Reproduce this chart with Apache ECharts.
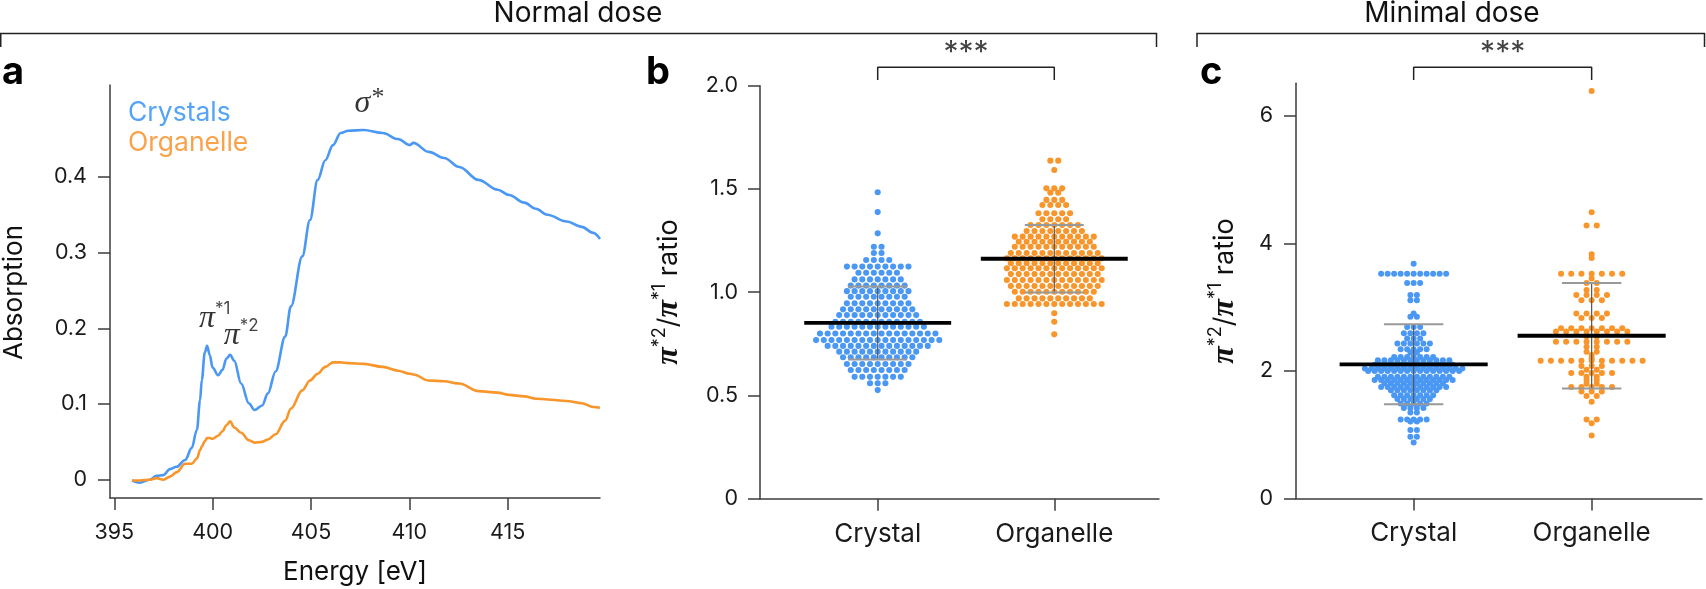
<!DOCTYPE html>
<html><head><meta charset="utf-8">
<script src="https://cdn.jsdelivr.net/npm/echarts/dist/echarts.min.js"></script>
<style>html,body{margin:0;padding:0;background:#fff}#c{width:1706px;height:589px}</style>
</head><body><div id="c"></div>
<script>
// ---------- DATA ----------
const energy = [395.9, 396.3, 396.8, 397.15, 397.5, 397.83, 398.17, 398.6, 398.94, 399.2,
  399.36, 399.45, 399.6, 399.72, 399.85, 400.0, 400.28, 400.5, 400.7, 400.89,
  401.1, 401.45, 401.84, 402.13, 402.52, 402.81, 403.2, 403.69, 403.98, 404.56,
  404.95, 405.34, 405.73, 406.12, 406.51, 406.9, 407.68, 408.65, 409.43, 410.02,
  410.21, 410.99, 411.77, 412.55, 413.52, 414.49, 415.08, 415.85, 416.44, 417.02,
  418.0, 418.77, 419.36, 419.7];
const absCrystals = [-0.001, -0.004, 0.000, 0.005, 0.006, 0.014, 0.017, 0.026, 0.042, 0.066,
  0.105, 0.132, 0.168, 0.177, 0.165, 0.148, 0.138, 0.145, 0.160, 0.165,
  0.157, 0.127, 0.101, 0.092, 0.098, 0.114, 0.143, 0.189, 0.229, 0.295,
  0.343, 0.396, 0.422, 0.442, 0.458, 0.461, 0.462, 0.458, 0.450, 0.442,
  0.445, 0.433, 0.425, 0.413, 0.396, 0.383, 0.376, 0.366, 0.358, 0.350,
  0.341, 0.334, 0.326, 0.318];
const absOrganelle = [-0.001, -0.001, 0.000, 0.002, 0.000, 0.004, 0.010, 0.021, 0.021, 0.028,
  0.039, 0.044, 0.051, 0.055, 0.055, 0.054, 0.058, 0.064, 0.072, 0.077,
  0.069, 0.062, 0.052, 0.049, 0.050, 0.053, 0.060, 0.078, 0.094, 0.118,
  0.131, 0.140, 0.149, 0.155, 0.155, 0.154, 0.153, 0.149, 0.144, 0.140,
  0.139, 0.131, 0.130, 0.127, 0.117, 0.115, 0.112, 0.110, 0.107, 0.106,
  0.104, 0.101, 0.096, 0.095];
const seriesNamesA = ['Crystals', 'Organelle'];
const groupNames = ['Crystal', 'Organelle'];
const energyTicks = [395, 400, 405, 410, 415];
const absTicks = [0, 0.1, 0.2, 0.3, 0.4];
const ratioTicksB = [0, 0.5, 1.0, 1.5, 2.0];
const ratioTicksC = [0, 2, 4, 6];

const bCrystal = [
  1.484, 1.388, 1.285, 1.22, 1.22, 1.19, 1.19,
  1.156, 1.156, 1.156, 1.156,
  1.124, 1.124, 1.124, 1.124, 1.124, 1.124, 1.124, 1.124, 1.124,
  1.094, 1.094, 1.094, 1.094, 1.094, 1.094,
  1.062, 1.062, 1.062, 1.062, 1.062, 1.062, 1.062,
  1.032, 1.032, 1.032, 1.032, 1.032, 1.032, 1.032, 1.032,
  1.005, 1.005, 1.005, 1.005, 1.005, 1.005, 1.005, 1.005, 1.005,
  0.978, 0.978, 0.978, 0.978, 0.978, 0.978, 0.978, 0.978,
  0.946, 0.946, 0.946, 0.946, 0.946, 0.946, 0.946, 0.946, 0.946,
  0.917, 0.917, 0.917, 0.917, 0.917, 0.917, 0.917, 0.917, 0.917, 0.917,
  0.889, 0.889, 0.889, 0.889, 0.889, 0.889, 0.889, 0.889, 0.889, 0.889, 0.889,
  0.857, 0.857, 0.857, 0.857, 0.857, 0.857, 0.857, 0.857, 0.857, 0.857, 0.857, 0.857,
  0.833, 0.833, 0.833, 0.833, 0.833, 0.833, 0.833, 0.833, 0.833, 0.833, 0.833, 0.833, 0.833,
  0.800, 0.800, 0.800, 0.800, 0.800, 0.800, 0.800, 0.800, 0.800, 0.800, 0.800, 0.800, 0.800, 0.800, 0.800, 0.800,
  0.768, 0.768, 0.768, 0.768, 0.768, 0.768, 0.768, 0.768, 0.768, 0.768, 0.768, 0.768, 0.768, 0.768, 0.768, 0.768, 0.768,
  0.740, 0.740, 0.740, 0.740, 0.740, 0.740, 0.740, 0.740, 0.740, 0.740, 0.740, 0.740, 0.740, 0.740,
  0.712, 0.712, 0.712, 0.712, 0.712, 0.712, 0.712, 0.712, 0.712, 0.712, 0.712,
  0.685, 0.685, 0.685, 0.685, 0.685, 0.685, 0.685, 0.685, 0.685, 0.685,
  0.652, 0.652, 0.652, 0.652, 0.652, 0.652, 0.652, 0.652, 0.652,
  0.623, 0.623, 0.623, 0.623, 0.623, 0.623, 0.623, 0.623,
  0.590, 0.590, 0.590, 0.590, 0.590, 0.590, 0.590,
  0.559, 0.559, 0.559,
  0.526];
const bOrganelle = [
  1.637, 1.637, 1.592,
  1.503, 1.503, 1.503, 1.482, 1.482,
  1.447, 1.447, 1.447, 1.422, 1.422, 1.422, 1.422,
  1.382, 1.382, 1.382, 1.382, 1.382, 1.353, 1.353, 1.353, 1.353,
  1.325, 1.325, 1.325, 1.325, 1.325, 1.325, 1.325,
  1.296, 1.296, 1.296, 1.296, 1.296, 1.296, 1.296, 1.296,
  1.269, 1.269, 1.269, 1.269, 1.269, 1.269, 1.269, 1.269, 1.269, 1.269, 1.269,
  1.244, 1.244, 1.244, 1.244, 1.244, 1.244, 1.244, 1.244, 1.244, 1.244,
  1.220, 1.220, 1.220, 1.220, 1.220, 1.220, 1.220, 1.220, 1.220, 1.220, 1.220,
  1.190, 1.190, 1.190, 1.190, 1.190, 1.190, 1.190, 1.190, 1.190, 1.190, 1.190, 1.190,
  1.164, 1.164, 1.164, 1.164, 1.164, 1.164, 1.164, 1.164, 1.164, 1.164, 1.164, 1.164, 1.164,
  1.140, 1.140, 1.140, 1.140, 1.140, 1.140, 1.140, 1.140, 1.140, 1.140, 1.140, 1.140,
  1.116, 1.116, 1.116, 1.116, 1.116, 1.116, 1.116, 1.116, 1.116, 1.116, 1.116, 1.116, 1.116,
  1.088, 1.088, 1.088, 1.088, 1.088, 1.088, 1.088, 1.088, 1.088, 1.088, 1.088, 1.088,
  1.059, 1.059, 1.059, 1.059, 1.059, 1.059, 1.059, 1.059, 1.059, 1.059, 1.059, 1.059, 1.059,
  1.030, 1.030, 1.030, 1.030, 1.030, 1.030, 1.030, 1.030, 1.030, 1.030, 1.030, 1.030,
  1.002, 1.002, 1.002, 1.002, 1.002, 1.002, 1.002, 1.002, 1.002, 1.002, 1.002,
  0.970, 0.970, 0.970, 0.970, 0.970, 0.970, 0.970, 0.970, 0.970, 0.970,
  0.943, 0.943, 0.943, 0.943, 0.943, 0.943, 0.943, 0.943, 0.943, 0.943, 0.943, 0.943, 0.943,
  0.898, 0.857, 0.796];
const cCrystal = [
  3.68,
  3.525, 3.525, 3.525, 3.525, 3.525, 3.525, 3.525, 3.525, 3.525, 3.525, 3.525,
  3.38, 3.38, 3.38, 3.19, 3.19, 3.11, 3.11,
  2.90, 2.85, 2.85, 2.69, 2.69, 2.69, 2.59, 2.59, 2.59, 2.59, 2.51, 2.51, 2.51,
  2.43, 2.43, 2.43, 2.43, 2.43, 2.43, 2.34, 2.34, 2.34, 2.34, 2.34, 2.29, 2.29,
  2.22, 2.22, 2.22, 2.22, 2.22, 2.22, 2.22,
  2.17, 2.17, 2.17, 2.17, 2.17, 2.17, 2.17, 2.17, 2.17, 2.17, 2.17, 2.17,
  2.10, 2.10, 2.10, 2.10, 2.10, 2.10, 2.10, 2.10, 2.10, 2.10, 2.10, 2.10, 2.10,
  2.04, 2.04, 2.04, 2.04, 2.04, 2.04, 2.04, 2.04, 2.04, 2.04, 2.04, 2.04, 2.04, 2.04, 2.04, 2.04,
  2.00, 2.00, 2.00, 2.00, 2.00, 2.00, 2.00, 2.00, 2.00, 2.00, 2.00, 2.00, 2.00, 2.00, 2.00,
  1.91, 1.91, 1.91, 1.91, 1.91, 1.91, 1.91, 1.91, 1.91, 1.91, 1.91, 1.91,
  1.86, 1.86, 1.86, 1.86, 1.86, 1.86, 1.86, 1.86, 1.86, 1.86, 1.86, 1.86, 1.86,
  1.81, 1.81, 1.81, 1.81, 1.81, 1.81, 1.81, 1.81, 1.81, 1.81,
  1.75, 1.75, 1.75, 1.75, 1.75, 1.75, 1.75, 1.75, 1.75, 1.75, 1.75,
  1.70, 1.70, 1.70, 1.70, 1.70, 1.70, 1.70, 1.70,
  1.62, 1.62, 1.62, 1.62, 1.62, 1.62, 1.62,
  1.56, 1.56, 1.56, 1.56, 1.56, 1.56,
  1.49, 1.49, 1.49, 1.49, 1.49,
  1.42, 1.42, 1.42, 1.42, 1.35, 1.35,
  1.24, 1.24, 1.24, 1.24, 1.24, 1.21, 1.21,
  1.075, 1.075, 0.97, 0.97, 0.88];
const cOrganelle = [
  6.39, 4.49, 4.28, 4.28, 3.83, 3.77,
  3.525, 3.525, 3.525, 3.525, 3.525, 3.525, 3.525, 3.45,
  3.38, 3.38, 3.27, 3.27, 3.19, 3.19, 3.19, 3.19, 3.11, 3.11, 3.11,
  2.90, 2.90, 2.90, 2.90, 2.83, 2.83, 2.83,
  2.67, 2.67, 2.67, 2.67, 2.67, 2.67, 2.67,
  2.62, 2.62, 2.62, 2.62, 2.62, 2.62, 2.62, 2.62,
  2.54, 2.54, 2.46, 2.46, 2.46, 2.46, 2.46, 2.46, 2.46, 2.46,
  2.38, 2.38, 2.30, 2.30, 2.25, 2.20,
  2.16, 2.16, 2.16, 2.16, 2.16, 2.16, 2.16, 2.16, 2.16, 2.16, 2.16,
  2.08, 2.08, 2.08, 2.02, 2.02, 1.97, 1.97, 1.97, 1.97, 1.97,
  1.91, 1.91, 1.86, 1.86, 1.80, 1.80, 1.75, 1.75, 1.75, 1.75, 1.75,
  1.68, 1.68, 1.68, 1.61, 1.61, 1.52, 1.24, 1.24, 1.18, 0.99];
const meansB = [0.851, 1.162];
const sdsB = [0.177, 0.163];
const meansC = [2.105, 2.553];
const sdsC = [0.627, 0.828];

// ---------- STYLE / LAYOUT ----------
const BLUE = '#4A98F3', ORANGE = '#F8952B';
const BLUE_TXT = '#55A3F6', ORANGE_TXT = '#F9A24A';
const FONT = 'Inter, "Noto Sans", sans-serif';
const SERIF = '"Liberation Serif", "DejaVu Serif", serif';
const AX = '#3c3c3c';

const gridA = {left: 110, top: 85, width: 490, height: 413};
const gridB = {left: 760, top: 85.7, width: 399, height: 413};
const gridC = {left: 1296, top: 83.3, width: 406, height: 415.3};
const xRangeA = [394.78, 419.7];
const yRangeA = [-0.0242, 0.5214];
const xRangeB = [0.3335, 2.593];
const xRangeC = [0.339, 2.62];
const yRangeC = [0, 6.51];

function rowSwarm(values, center, spacingPx, pxPerUnit) {
  const counts = new Map();
  values.forEach(v => counts.set(v, (counts.get(v) || 0) + 1));
  const out = [];
  counts.forEach((n, v) => {
    for (let i = 0; i < n; i++) out.push([center + (i - (n - 1) / 2) * spacingPx / pxPerUnit, v]);
  });
  return out;
}
const pxB = gridB.width / (xRangeB[1] - xRangeB[0]);
const pxC = gridC.width / (xRangeC[1] - xRangeC[0]);

function baseAxis(extra) {
  return Object.assign({
    axisLine: {show: true, onZero: false, lineStyle: {color: AX, width: 1.5}},
    axisTick: {show: true, length: 12, lineStyle: {color: AX, width: 1.5}},
    splitLine: {show: false},
    axisLabel: {color: '#1a1a1a', fontFamily: FONT, fontSize: 21.5}
  }, extra);
}
function fmtDec(v) { return v === 0 ? '0' : v.toFixed(1); }

const xAxes = [
  baseAxis({gridIndex: 0, type: 'value', min: xRangeA[0], max: xRangeA[1],
    axisTick: {show: true, length: 12, customValues: energyTicks, lineStyle: {color: AX, width: 1.5}},
    axisLabel: {customValues: energyTicks, color: '#1a1a1a', fontFamily: FONT, fontSize: 21.5, margin: 24}}),
  baseAxis({gridIndex: 1, type: 'value', min: xRangeB[0], max: xRangeB[1],
    axisTick: {show: true, length: 12, customValues: [1, 2], lineStyle: {color: AX, width: 1.5}},
    axisLabel: {customValues: [1, 2], formatter: v => groupNames[Math.round(v) - 1], color: '#1a1a1a', fontFamily: FONT, fontSize: 26, margin: 22}}),
  baseAxis({gridIndex: 2, type: 'value', min: xRangeC[0], max: xRangeC[1],
    axisTick: {show: true, length: 12, customValues: [1, 2], lineStyle: {color: AX, width: 1.5}},
    axisLabel: {customValues: [1, 2], formatter: v => groupNames[Math.round(v) - 1], color: '#1a1a1a', fontFamily: FONT, fontSize: 26, margin: 22}})
];
const yAxes = [
  baseAxis({gridIndex: 0, type: 'value', min: yRangeA[0], max: yRangeA[1],
    axisTick: {show: true, length: 12, customValues: absTicks, lineStyle: {color: AX, width: 1.5}},
    axisLabel: {customValues: absTicks, formatter: fmtDec, color: '#1a1a1a', fontFamily: FONT, fontSize: 21.5, margin: 23}}),
  baseAxis({gridIndex: 1, type: 'value', min: 0, max: 2,
    axisTick: {show: true, length: 12, customValues: ratioTicksB, lineStyle: {color: AX, width: 1.5}},
    axisLabel: {customValues: ratioTicksB, formatter: fmtDec, color: '#1a1a1a', fontFamily: FONT, fontSize: 21.5, margin: 22}}),
  baseAxis({gridIndex: 2, type: 'value', min: yRangeC[0], max: yRangeC[1],
    axisTick: {show: true, length: 12, customValues: ratioTicksC, lineStyle: {color: AX, width: 1.5}},
    axisLabel: {customValues: ratioTicksC, formatter: v => String(v), color: '#1a1a1a', fontFamily: FONT, fontSize: 21.5, margin: 23}})
];

function meanSdSeries(xi, yi, means, sds) {
  return {
    type: 'custom', xAxisIndex: xi, yAxisIndex: yi, z: 10, silent: true, clip: false,
    data: means.map((m, i) => [i + 1, m, sds[i]]),
    renderItem: function (params, api) {
      const x = api.value(0), m = api.value(1), s = api.value(2);
      const top = api.coord([x, m + s]), bot = api.coord([x, m - s]);
      const capL = api.coord([x - 0.167, m])[0], capR = api.coord([x + 0.167, m])[0];
      const mL = api.coord([x - 0.416, m]), mR = api.coord([x + 0.416, m]);
      return {type: 'group', children: [
        {type: 'line', shape: {x1: top[0], y1: top[1], x2: bot[0], y2: bot[1]}, style: {stroke: '#555', lineWidth: 1.2}},
        {type: 'line', shape: {x1: capL, y1: top[1], x2: capR, y2: top[1]}, style: {stroke: '#999', lineWidth: 2}},
        {type: 'line', shape: {x1: capL, y1: bot[1], x2: capR, y2: bot[1]}, style: {stroke: '#999', lineWidth: 2}},
        {type: 'line', shape: {x1: mL[0], y1: mL[1], x2: mR[0], y2: mR[1]}, style: {stroke: '#000', lineWidth: 3.8}}
      ]};
    }
  };
}
function bracketSeries(xi, yi, yLow, yHigh, yStar) {
  return [{
    type: 'line', xAxisIndex: xi, yAxisIndex: yi, clip: false, silent: true, symbol: 'none',
    lineStyle: {color: '#222', width: 1.5}, z: 5,
    data: [[1, yLow], [1, yHigh], [2, yHigh], [2, yLow]]
  }, {
    type: 'scatter', xAxisIndex: xi, yAxisIndex: yi, clip: false, silent: true, symbolSize: 0.01,
    data: [[1.5, yStar]],
    label: {show: true, position: 'inside', formatter: '***', color: '#111', fontFamily: FONT, fontSize: 30}
  }];
}
function dots(xi, yi, data, color, size) {
  return {type: 'scatter', xAxisIndex: xi, yAxisIndex: yi, data: data, symbolSize: size, silent: true,
    itemStyle: {color: color, opacity: 1}, z: 3};
}

const annRich = {
  p: {fontFamily: SERIF, fontStyle: 'italic', fontSize: 32, color: '#000', lineHeight: 36},
  s: {fontFamily: FONT, fontSize: 17, color: '#111', verticalAlign: 'top', lineHeight: 18},
  a: {fontFamily: SERIF, fontStyle: 'italic', fontSize: 26, color: '#000', verticalAlign: 'top', lineHeight: 24}
};

const series = [
  {name: seriesNamesA[0], type: 'line', xAxisIndex: 0, yAxisIndex: 0, symbol: 'none', smooth: 0.35, smoothMonotone: 'x',
    lineStyle: {color: BLUE, width: 2.6}, data: energy.map((e, i) => [e, absCrystals[i]])},
  {name: seriesNamesA[1], type: 'line', xAxisIndex: 0, yAxisIndex: 0, symbol: 'none', smooth: 0.35, smoothMonotone: 'x',
    lineStyle: {color: ORANGE, width: 2.6}, data: energy.map((e, i) => [e, absOrganelle[i]])},
  {type: 'scatter', xAxisIndex: 0, yAxisIndex: 0, symbolSize: 0.01, silent: true, clip: false,
    label: {show: true, position: 'inside', rich: annRich},
    data: [
      {value: [400.1, 0.213], label: {formatter: '{p|π}{s|*1}'}},
      {value: [401.45, 0.19], label: {formatter: '{p|π}{s|*2}'}},
      {value: [407.95, 0.497], label: {formatter: '{p|σ}{a|*}'}}
    ]},
  dots(1, 1, rowSwarm(bCrystal, 1, 7.7, pxB), BLUE, 6.1),
  dots(1, 1, rowSwarm(bOrganelle, 2, 7.9, pxB), ORANGE, 6.1),
  meanSdSeries(1, 1, meansB, sdsB),
  ...bracketSeries(1, 1, 2.027, 2.089, 2.16),
  dots(2, 2, rowSwarm(cCrystal, 1, 6.5, pxC), BLUE, 6),
  dots(2, 2, rowSwarm(cOrganelle, 2, 10.2, pxC), ORANGE, 6),
  meanSdSeries(2, 2, meansC, sdsC),
  ...bracketSeries(2, 2, 6.56, 6.76, 6.98)
];

const ratioRich = {
  p: {fontFamily: SERIF, fontStyle: 'italic', fontWeight: 'bold', fontSize: 32, fill: '#111', lineHeight: 36},
  s: {fontFamily: FONT, fontSize: 18, fill: '#111', verticalAlign: 'top', lineHeight: 19},
  n: {fontFamily: FONT, fontSize: 27, fill: '#111', lineHeight: 36}
};
function txt(x, y, text, opts) {
  return Object.assign({type: 'text', x: x, y: y, silent: true,
    style: Object.assign({text: text, fill: '#111', fontFamily: FONT, fontSize: 26, align: 'center', verticalAlign: 'middle'}, opts || {})});
}
const graphics = [
  {type: 'polyline', silent: true, shape: {points: [[0.75, 47], [0.75, 33.5], [1156.5, 33.5], [1156.5, 47]]}, style: {stroke: '#222', lineWidth: 1.5, fill: null}},
  {type: 'polyline', silent: true, shape: {points: [[1197, 47], [1197, 33.5], [1704.5, 33.5], [1704.5, 47]]}, style: {stroke: '#222', lineWidth: 1.5, fill: null}},
  txt(578, 13.5, 'Normal dose', {fontSize: 28}),
  txt(1452, 13.5, 'Minimal dose', {fontSize: 28}),
  txt(2, 73, 'a', {fontSize: 38, fontWeight: 'bold', align: 'left', fill: '#000'}),
  txt(646, 73, 'b', {fontSize: 38, fontWeight: 'bold', align: 'left', fill: '#000'}),
  txt(1200, 73, 'c', {fontSize: 38, fontWeight: 'bold', align: 'left', fill: '#000'}),
  txt(128, 113, 'Crystals', {align: 'left', fill: BLUE_TXT, fontSize: 26.5}),
  txt(128, 143, 'Organelle', {align: 'left', fill: ORANGE_TXT, fontSize: 26.5}),
  txt(355, 572.5, 'Energy [eV]', {fontSize: 26}),
  Object.assign(txt(14.5, 292.5, 'Absorption', {fontSize: 26}), {rotation: Math.PI / 2}),
  Object.assign(txt(669, 292, '{p|π}{s|*2}{n|/}{p|π}{s|*1}{n| ratio}', {rich: ratioRich}), {rotation: Math.PI / 2}),
  Object.assign(txt(1225, 291, '{p|π}{s|*2}{n|/}{p|π}{s|*1}{n| ratio}', {rich: ratioRich}), {rotation: Math.PI / 2})
];

const chart = echarts.init(document.getElementById('c'), null, {renderer: 'canvas'});
chart.setOption({
  animation: false,
  backgroundColor: '#fff',
  tooltip: {show: false},
  grid: [
    Object.assign({outerBoundsMode: 'none', containLabel: false}, gridA),
    Object.assign({outerBoundsMode: 'none', containLabel: false}, gridB),
    Object.assign({outerBoundsMode: 'none', containLabel: false}, gridC)
  ],
  xAxis: xAxes,
  yAxis: yAxes,
  series: series,
  graphic: graphics
});
</script></body></html>
